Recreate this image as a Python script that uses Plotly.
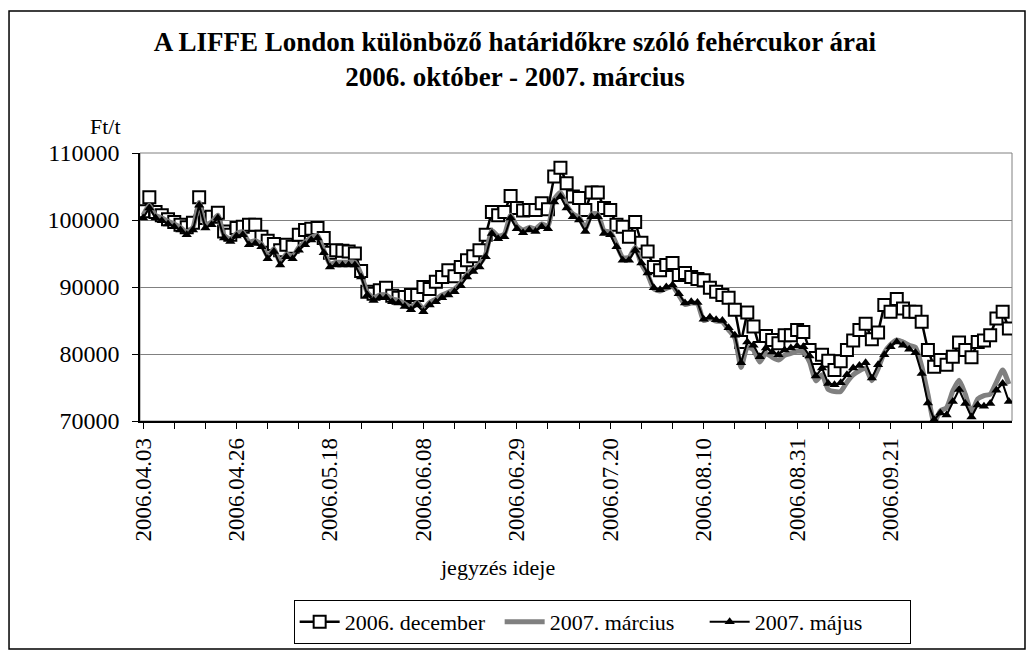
import plotly.graph_objects as go

# trading-day index 0..139, labels every 15 quotes
tick_pos = [0, 15, 30, 45, 60, 75, 90, 105, 120]
tick_labels = ["2006.04.03", "2006.04.26", "2006.05.18", "2006.06.08", "2006.06.29",
               "2006.07.20", "2006.08.10", "2006.08.31", "2006.09.21"]

# Ft/t
dec_2006 = [
    101300, 103400, 101200, 100700, 100100, 99700, 99300, 98900, 99600, 103400,
    100300, 100500, 101100, 98300, 97800, 98800, 99000, 99300, 99300, 97500,
    96900, 96400, 95500, 96300, 96000, 97800, 98500, 98700, 98800, 97300,
    95100, 95500, 95400, 95300, 95000, 92400, 89300, 89000, 89500, 89900,
    88700, 88400, 88500, 88800, 88800, 90000, 89700, 90800, 91500, 92500,
    91600, 93000, 94000, 94600, 95500, 97800, 101200, 100700, 101200, 103600,
    101800, 101400, 101500, 101500, 102500, 101600, 106500, 107800, 105500, 103500,
    103300, 101500, 104100, 104100, 101800, 101500, 99300, 99000, 97500, 99700,
    96600, 95300, 93000, 92500, 93300, 93600, 91800, 92100, 91500, 91200,
    91000, 89900, 89300, 88800, 88400, 86600, 81800, 86200, 84100, 80900,
    82700, 82100, 81600, 82800, 82800, 83600, 83300, 80600, 79400, 79900,
    79000, 77600, 78900, 80600, 82000, 83600, 84500, 82200, 83200, 87300,
    86300, 88200, 86800, 86300, 86300, 84800, 80600, 78100, 79100, 78400,
    79600, 81700, 80600, 79500, 81800, 82000, 82800, 85300, 86300, 83800,
]

mar_2007 = [
    100700, 102200, 100700, 100300, 99800, 99400, 98900, 98200, 98900, 102600,
    99200, 99700, 100700, 97700, 97200, 98000, 98200, 96700, 96900, 96400,
    94600, 95700, 93700, 94900, 94600, 95900, 96700, 97400, 97700, 95500,
    93400, 93700, 93700, 93700, 93700, 91900, 89200, 88400, 88800, 88800,
    88200, 88000, 87500, 87000, 87700, 86700, 87700, 88200, 88800, 89200,
    89700, 90600, 91900, 92700, 93400, 94900, 98400, 97600, 97900, 100700,
    99100, 98500, 98900, 98700, 99400, 99100, 103100, 104100, 102200, 100900,
    100400, 98700, 100900, 100900, 98400, 98200, 96400, 94400, 94400, 95900,
    93400, 91900, 89700, 89400, 89800, 90100, 88800, 87400, 87600, 87500,
    85000, 85300, 84900, 84800, 83600, 82400, 78000, 81000, 80600, 78800,
    80100, 79500, 79100, 79800, 80100, 80400, 80300, 78800, 76000, 76900,
    74700, 74400, 74400, 75800, 76900, 77500, 77900, 76000, 77800, 80200,
    81400, 82100, 81800, 81300, 81000, 78200, 74000, 69800, 71500, 72000,
    74500, 76100, 74000, 71300, 73300, 73800, 74000, 75800, 77600, 75500,
]

may_2007 = [
    100300, 101800, 100300, 99900, 99400, 99000, 98500, 97800, 98500, 102200,
    98800, 99300, 100300, 97300, 96800, 97600, 97800, 96300, 96500, 96000,
    94200, 95300, 93300, 94500, 94200, 95500, 96300, 97000, 97300, 95100,
    93000, 93300, 93300, 93300, 93300, 91500, 88800, 88000, 88400, 88400,
    87800, 87600, 87100, 86600, 87300, 86300, 87300, 87800, 88400, 88800,
    89300, 90200, 91500, 92300, 93000, 94500, 98000, 97200, 97500, 100300,
    98700, 98100, 98500, 98300, 99000, 98700, 102700, 103500, 101800, 100500,
    100000, 98300, 100500, 100500, 98000, 97800, 96000, 94000, 94000, 95500,
    93600, 92100, 89900, 89600, 90000, 90300, 89000, 87600, 87800, 87700,
    85200, 85500, 85100, 85000, 83900, 82800, 78700, 81800, 81300, 79600,
    80900, 80300, 79900, 80600, 80900, 81200, 81100, 79700, 76700, 77900,
    75600, 75400, 75700, 76900, 77900, 78300, 78700, 76400, 78400, 79900,
    81100, 81800, 81300, 80700, 80200, 77100, 72700, 70200, 71200, 70900,
    72900, 74700, 72600, 70600, 72400, 72200, 72600, 74600, 75600, 72900,
]

x = list(range(len(dec_2006)))
FONT = "Liberation Serif, Times New Roman, serif"

fig = go.Figure()
fig.add_trace(go.Scatter(x=x, y=dec_2006, mode='lines+markers', name='2006. december',
                         line=dict(color='black', width=2.5),
                         marker=dict(symbol='square', size=12, color='white',
                                     line=dict(color='black', width=2))))
fig.add_trace(go.Scatter(x=x, y=mar_2007, mode='lines', name='2007. március',
                         line=dict(color='#808080', width=5, shape='spline', smoothing=0.6)))
fig.add_trace(go.Scatter(x=x, y=may_2007, mode='lines+markers', name='2007. május',
                         line=dict(color='black', width=2),
                         marker=dict(symbol='triangle-up', size=9, color='black')))

# plot area border (gray top/right) and outer chart frame
fig.add_shape(type='rect', xref='paper', yref='paper', x0=0, x1=1, y0=0, y1=1,
              line=dict(color='#808080', width=1), layer='below')
fig.add_shape(type='rect', xref='paper', yref='paper', x0=-0.1502, x1=1.0149, y0=-0.851, y1=1.53,
              line=dict(color='black', width=1.5))

fig.add_annotation(text='Ft/t', xref='paper', yref='paper', x=-0.06, y=1.045, yanchor='bottom',
                   showarrow=False, font=dict(family=FONT, size=22, color='black'))
fig.add_annotation(text='jegyzés ideje', xref='paper', yref='paper', x=0.41, y=-0.60,
                   showarrow=False, font=dict(family=FONT, size=22, color='black'))

fig.update_xaxes(range=[-0.5, 139.5], tickmode='array', tickvals=tick_pos, ticktext=tick_labels,
                 tickangle=-90, ticks='outside', ticklen=6, tickcolor='black',
                 showgrid=False, zeroline=False, showline=True, linecolor='black', linewidth=1.5,
                 tickfont=dict(family=FONT, size=23, color='black'),
                 minor=dict(tickmode='linear', tick0=0, dtick=5, ticks='outside', ticklen=6,
                            tickcolor='black', showgrid=False))
fig.update_yaxes(range=[70000, 110000], dtick=10000, tickformat='d',
                 ticks='outside', ticklen=6, tickcolor='black', ticklabelstandoff=8,
                 showgrid=True, gridcolor='#808080', gridwidth=1, zeroline=False,
                 showline=True, linecolor='black', linewidth=1.5,
                 tickfont=dict(family=FONT, size=24, color='black'))

fig.update_layout(
    width=1034, height=651,
    margin=dict(l=140, r=22, t=153, b=230, autoexpand=False),
    paper_bgcolor='white', plot_bgcolor='white',
    title=dict(text='<b>A LIFFE London különböző határidőkre szóló fehércukor árai<br>'
                    '2006. október - 2007. március</b>',
               x=0.498, xanchor='center', y=0.922, yanchor='middle',
               font=dict(family=FONT, size=27, color='black')),
    legend=dict(orientation='h', x=0.53, xanchor='center', y=-0.668, yanchor='top',
                bordercolor='black', borderwidth=1, bgcolor='white', entrywidth=150,
                font=dict(family=FONT, size=22, color='black'), itemwidth=40),
    font=dict(family=FONT, color='black'),
)

fig.write_html("out.html", config={'displayModeBar': False},
               post_script="document.body.style.margin='0';")
